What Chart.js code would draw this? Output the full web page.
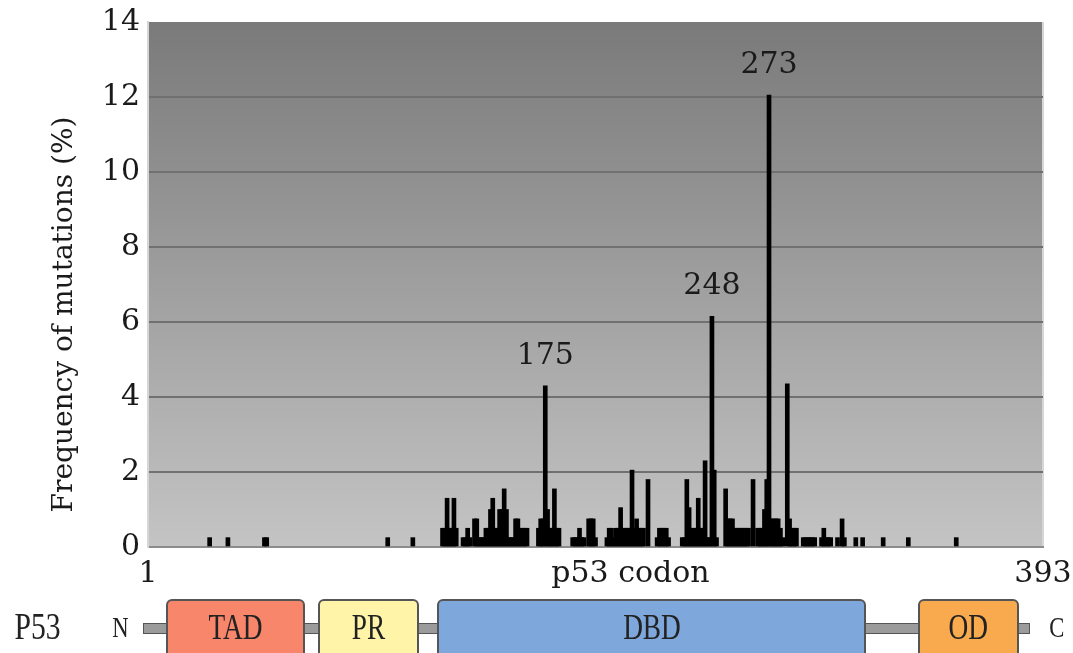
<!DOCTYPE html>
<html>
<head>
<meta charset="utf-8">
<script src="https://cdn.jsdelivr.net/npm/chart.js@4.4.0/dist/chart.umd.min.js"></script>
<style>
  body { margin: 0; background: #fff; }
  #wrap { position: relative; width: 1073px; height: 653px; overflow: hidden; }
  #chart { position: absolute; left: 0; top: 0; }
  .lbl { position: absolute; font-family: "Liberation Serif", serif; color: #222; white-space: nowrap; }
  .lbl span, .box span { display: inline-block; transform: scaleX(0.78); }
  .bone { position: absolute; left: 143px; width: 885px; top: 623px; height: 9px; background: #9b9b9b; border: 1px solid #555; }
  .box { position: absolute; top: 599px; height: 60px; border: 2px solid #555; border-radius: 6px; box-sizing: border-box;
         text-align: center; line-height: 54px; font-family: "Liberation Serif", serif; font-size: 35px; color: #222; }
</style>
</head>
<body>
<div id="wrap">
  <canvas id="chart" width="1073" height="653"></canvas>
  <div class="lbl" style="left:8px; top:604px; font-size:38px;"><span>P53</span></div>
  <div class="lbl" style="left:110px; top:611px; font-size:29px;"><span>N</span></div>
  <div class="bone"></div>
  <div class="box" style="left:166px; width:139px; background:#f7866b;"><span>TAD</span></div>
  <div class="box" style="left:318px; width:101px; background:#fff4a8;"><span>PR</span></div>
  <div class="box" style="left:437px; width:429px; background:#7ea7db;"><span>DBD</span></div>
  <div class="box" style="left:918px; width:101px; background:#f9a94e;"><span>OD</span></div>
  <div class="lbl" style="left:1047px; top:611px; font-size:29px;"><span>C</span></div>
</div>
<script>
// codons with recorded mutations and their frequency (%)
const codons = [
  28, 36, 52, 53, 106, 117,
  130, 131, 132, 133, 134, 135, 136, 139, 140, 141, 142, 144, 145, 146, 147, 148, 149, 150,
  151, 152, 153, 154, 155, 156, 157, 158, 159, 160, 161, 162, 163, 164, 165, 166, 167,
  172, 173, 174, 175, 176, 177, 178, 179, 180, 181,
  187, 188, 189, 190, 191, 192, 194, 195, 196, 197,
  202, 203, 204, 205, 206, 207, 208, 209, 210, 211, 212, 213, 214, 215, 216, 217, 218, 220,
  224, 225, 226, 227, 228, 229,
  235, 236, 237, 238, 239, 240, 241, 242, 243, 244, 245, 246, 247, 248, 249, 250,
  254, 255, 256, 257, 258, 259, 260, 261, 262, 263, 264, 266,
  268, 269, 270, 271, 272, 273, 274, 275, 276, 277, 278, 279, 281, 282, 283, 284, 285,
  288, 289, 290, 291, 292, 293, 296, 297, 298, 299, 300, 303, 305, 306,
  311, 314, 323, 334, 355
];
const freq = [
  0.25, 0.25, 0.25, 0.25, 0.25, 0.25,
  0.5, 0.5, 1.3, 0.5, 0.5, 1.3, 0.5, 0.25, 0.25, 0.5, 0.25, 0.75, 0.75, 0.25, 0.25, 0.25, 0.5, 0.5,
  1.0, 1.3, 0.5, 0.5, 1.0, 1.0, 1.55, 1.0, 0.25, 0.25, 0.25, 0.75, 0.75, 0.5, 0.5, 0.5, 0.5,
  0.5, 0.75, 0.75, 4.3, 1.0, 0.5, 0.5, 1.55, 0.5, 0.5,
  0.25, 0.25, 0.25, 0.5, 0.25, 0.25, 0.75, 0.75, 0.75, 0.25,
  0.25, 0.5, 0.5, 0.25, 0.5, 0.5, 1.05, 0.5, 0.5, 0.5, 0.5, 2.05, 0.5, 0.75, 0.5, 0.5, 0.5, 1.8,
  0.25, 0.5, 0.5, 0.5, 0.5, 0.25,
  0.25, 0.25, 1.8, 1.05, 0.5, 0.5, 0.5, 1.3, 0.5, 0.5, 2.3, 0.25, 0.25, 6.15, 2.05, 0.25,
  1.55, 0.75, 0.75, 0.75, 0.5, 0.5, 0.5, 0.5, 0.5, 0.5, 0.5, 1.8,
  0.5, 0.5, 0.5, 1.0, 1.8, 12.05, 0.75, 0.75, 0.75, 0.75, 0.5, 0.25, 4.35, 0.75, 0.5, 0.5, 0.5,
  0.25, 0.25, 0.25, 0.25, 0.25, 0.25, 0.25, 0.5, 0.25, 0.25, 0.25, 0.25, 0.75, 0.25,
  0.25, 0.25, 0.25, 0.25, 0.25
];
const xTicks = [1, 393];
const yTicks = [0, 2, 4, 6, 8, 10, 12, 14];
const peakCodons = [175, 248, 273];
const peakLabels = ['175', '248', '273'];
const xTitle = 'p53 codon';
const yTitle = 'Frequency of mutations (%)';

const serif = '"DejaVu Serif", serif';

// grey gradient behind the plot + light right edge
const backdrop = {
  id: 'backdrop',
  beforeDraw(chart) {
    const { ctx, chartArea: a } = chart;
    const g = ctx.createLinearGradient(0, a.top, 0, a.bottom);
    g.addColorStop(0, '#7a7a7a');
    g.addColorStop(1, '#c4c4c4');
    ctx.save();
    ctx.fillStyle = g;
    ctx.fillRect(a.left, a.top, a.right - a.left, a.bottom - a.top);
    ctx.strokeStyle = '#d6d6d6';
    ctx.lineWidth = 2;
    ctx.beginPath();
    ctx.moveTo(a.right, a.top); ctx.lineTo(a.right, a.bottom);
    ctx.stroke();
    ctx.restore();
  }
};

// codon numbers above the hotspots, and the two axis titles (placed off-centre like the original)
const labels = {
  id: 'labels',
  afterDatasetsDraw(chart) {
    const { ctx, chartArea: a, scales: { x, y } } = chart;
    ctx.save();
    ctx.fillStyle = '#1a1a1a';
    ctx.textAlign = 'center';
    ctx.font = '30px ' + serif;
    ctx.textBaseline = 'bottom';
    peakCodons.forEach((c, i) => {
      const v = freq[codons.indexOf(c)];
      ctx.fillText(peakLabels[i], x.getPixelForValue(c), y.getPixelForValue(v) - 15);
    });
    ctx.textBaseline = 'middle';
    ctx.fillText(xTitle, (a.left + a.right) / 2 + 35, a.bottom + 27);
    ctx.font = '28px ' + serif;
    ctx.translate(65, (a.top + a.bottom) / 2 + 30);
    ctx.rotate(-Math.PI / 2);
    ctx.fillText(yTitle, 0, 0);
    ctx.restore();
  }
};

new Chart(document.getElementById('chart'), {
  type: 'bar',
  data: {
    datasets: [{
      data: codons.map((c, i) => ({ x: c, y: freq[i] })),
      backgroundColor: '#000',
      borderWidth: 0,
      barThickness: 4
    }]
  },
  options: {
    responsive: false,
    animation: false,
    layout: { padding: { top: 22, right: 30, bottom: 61, left: 0 } },
    plugins: { legend: { display: false }, tooltip: { enabled: false } },
    scales: {
      x: {
        type: 'linear',
        min: 1, max: 393,
        offset: false,
        grid: { display: false, offset: false, drawTicks: false },
        border: { display: true, color: '#8c8c8c', width: 2 },
        afterBuildTicks: s => { s.ticks = xTicks.map(v => ({ value: v })); },
        afterFit: s => { s.height = 45; s.paddingLeft = 0; s.paddingRight = 0; },
        ticks: { font: { family: serif, size: 30 }, color: '#1a1a1a', padding: 9, maxRotation: 0 }
      },
      y: {
        min: 0, max: 14,
        afterBuildTicks: s => { s.ticks = yTicks.map(v => ({ value: v })); },
        afterFit: s => { s.width = 148; s.paddingTop = 0; s.paddingBottom = 0; },
        grid: {
          drawTicks: false,
          lineWidth: 2,
          color: c => (c.tick && (c.tick.value === 0 || c.tick.value === 14)) ? 'rgba(0,0,0,0)' : '#707070'
        },
        border: { display: true, color: '#d6d6d6', width: 2 },
        ticks: { font: { family: serif, size: 30 }, color: '#1a1a1a', padding: 8 }
      }
    }
  },
  plugins: [backdrop, labels]
});
</script>
</body>
</html>
